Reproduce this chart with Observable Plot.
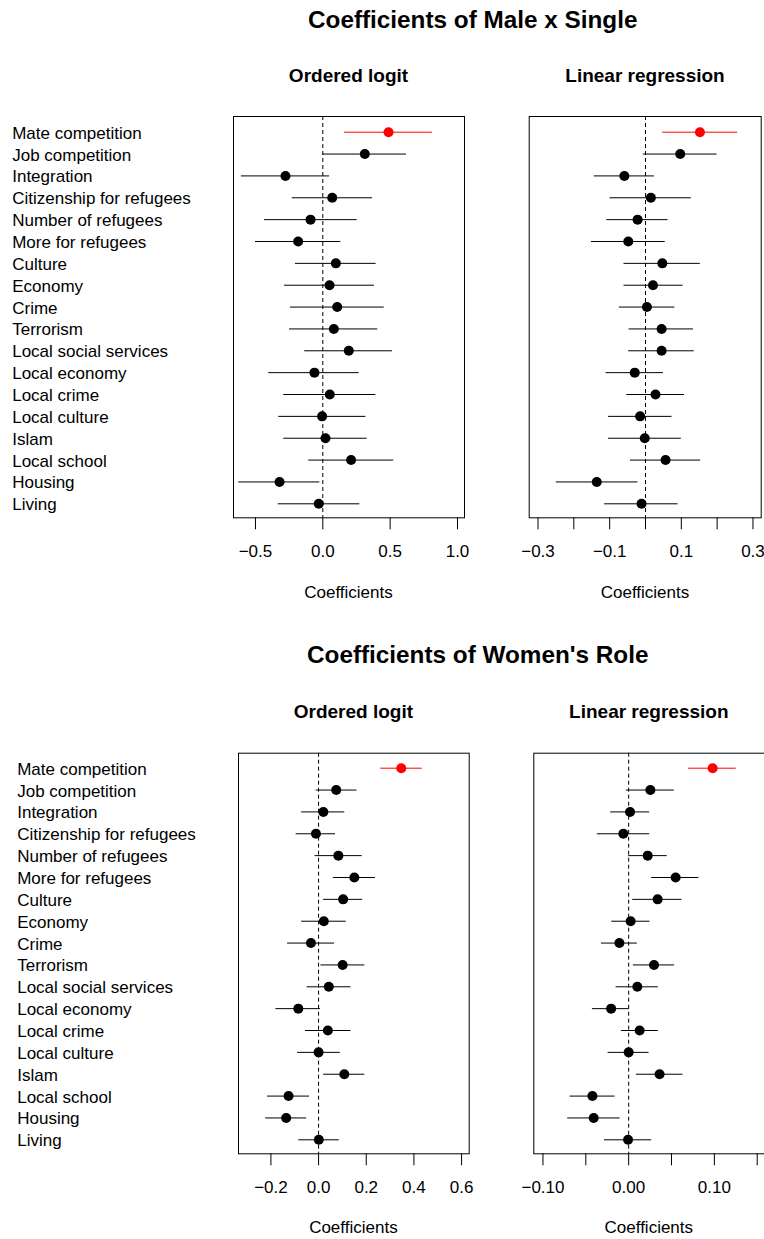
<!DOCTYPE html>
<html><head><meta charset="utf-8">
<script src="https://cdn.jsdelivr.net/npm/d3@7"></script>
<script src="https://cdn.jsdelivr.net/npm/@observablehq/plot@0.6"></script>
<style>
body{margin:0;background:#fff;}
#wrap{position:relative;width:764px;height:1239px;overflow:hidden;font-family:"Liberation Sans",Arial,Helvetica,sans-serif;color:#000;background:#fff;}
.t{position:absolute;white-space:nowrap;line-height:1;}
.pl{position:absolute;}
</style></head><body><div id="wrap"></div>
<script>
// ---- data ----
const categories = ["Mate competition","Job competition","Integration","Citizenship for refugees","Number of refugees","More for refugees","Culture","Economy","Crime","Terrorism","Local social services","Local economy","Local crime","Local culture","Islam","Local school","Housing","Living"];

// Male x Single — ordered logit
const msLogitEst = [0.488,0.312,-0.277,0.07,-0.091,-0.183,0.097,0.05,0.107,0.082,0.193,-0.062,0.052,-0.005,0.02,0.21,-0.321,-0.03];
const msLogitLo  = [0.161,0.0,-0.604,-0.227,-0.433,-0.5,-0.203,-0.284,-0.24,-0.247,-0.134,-0.401,-0.29,-0.327,-0.29,-0.104,-0.624,-0.331];
const msLogitHi  = [0.814,0.621,0.05,0.369,0.255,0.134,0.396,0.384,0.456,0.408,0.517,0.27,0.394,0.32,0.33,0.527,-0.022,0.275];

// Male x Single — linear regression
const msOlsEst = [0.152,0.097,-0.059,0.015,-0.022,-0.048,0.047,0.021,0.004,0.045,0.045,-0.03,0.028,-0.015,-0.002,0.056,-0.136,-0.011];
const msOlsLo  = [0.048,-0.006,-0.143,-0.099,-0.108,-0.151,-0.06,-0.06,-0.073,-0.046,-0.047,-0.11,-0.052,-0.103,-0.103,-0.042,-0.249,-0.114];
const msOlsHi  = [0.257,0.2,0.025,0.128,0.063,0.055,0.153,0.105,0.082,0.134,0.136,0.05,0.109,0.074,0.1,0.154,-0.021,0.091];

// Women's Role — ordered logit
const wrLogitEst = [0.347,0.074,0.02,-0.011,0.083,0.15,0.103,0.022,-0.032,0.101,0.043,-0.085,0.039,0.0,0.108,-0.126,-0.136,0.001];
const wrLogitLo  = [0.261,-0.01,-0.071,-0.094,-0.015,0.062,0.021,-0.071,-0.13,0.01,-0.048,-0.179,-0.055,-0.088,0.021,-0.214,-0.222,-0.083];
const wrLogitHi  = [0.435,0.161,0.11,0.071,0.183,0.239,0.185,0.116,0.067,0.194,0.136,0.008,0.136,0.091,0.194,-0.038,-0.05,0.087];

// Women's Role — linear regression
const wrOlsEst = [0.098,0.0253,0.0016,-0.0062,0.0222,0.0548,0.0338,0.0023,-0.0108,0.0296,0.0101,-0.0205,0.0128,0.0,0.0361,-0.0423,-0.0408,-0.0007];
const wrOlsLo  = [0.07,-0.0027,-0.021,-0.0365,0.0,0.0268,0.0047,-0.0198,-0.0318,0.0055,-0.0147,-0.0423,-0.0085,-0.024,0.009,-0.0683,-0.0711,-0.0283];
const wrOlsHi  = [0.1255,0.0533,0.0245,0.0245,0.045,0.082,0.0622,0.0249,0.0101,0.0536,0.0346,0.0008,0.0346,0.0238,0.0634,-0.0159,-0.01,0.0268];

// tick values
const ticksLogitMS = [-0.5,0,0.5,1.0];
const ticksOlsMS = [-0.3,-0.2,-0.1,0,0.1,0.2,0.3];
const ticksLogitWR = [-0.2,0,0.2,0.4,0.6];
const ticksOlsWR = [-0.1,-0.05,0,0.05,0.1,0.15];

const highlightCat = "Mate competition";
const red = "#ff0000";

// ---- layout helpers ----
const wrap = document.getElementById("wrap");
function addText(str, x, baseline, size, bold, anchor) {
  const d = document.createElement("div");
  d.className = "t";
  d.textContent = str;
  d.style.fontSize = size + "px";
  d.style.fontWeight = bold ? "bold" : "normal";
  d.style.top = (baseline - 0.8465 * size) + "px";
  d.style.left = x + "px";
  if (anchor === "middle") d.style.transform = "translateX(-50%)";
  wrap.appendChild(d);
}

function panel(o) {
  const rows = categories.map((c, i) => ({cat: c, est: o.est[i], lo: o.lo[i], hi: o.hi[i]}));
  const hl = rows.filter(d => d.cat === highlightCat);
  const rest = rows.filter(d => d.cat !== highlightCat);
  const marks = [
    Plot.ruleX([0], {stroke: "#000", strokeWidth: 1, strokeDasharray: "4,3"}),
    Plot.ruleY(rest, {y: "cat", x1: "lo", x2: "hi", stroke: "#000", strokeWidth: 1}),
    Plot.ruleY(hl, {y: "cat", x1: "lo", x2: "hi", stroke: red, strokeWidth: 1}),
    Plot.dot(rest, {x: "est", y: "cat", r: 5, fill: "#000", stroke: "none"}),
    Plot.dot(hl, {x: "est", y: "cat", r: 5, fill: red, stroke: "none"}),
    Plot.frame({stroke: "#000", strokeWidth: 1}),
    Plot.axisX({ticks: o.ticks, tickFormat: o.fmt, tickSize: 12, tickPadding: 15, fontSize: 17, label: null, fill: "#000"})
  ];
  if (o.labels) {
    marks.push(Plot.text(categories, {y: d => d, frameAnchor: "left", textAnchor: "start", dx: -221.3, dy: 1, fontSize: 17, fill: "#000"}));
  }
  const svg = Plot.plot({
    width: o.width, height: 480,
    marginLeft: o.mL, marginRight: o.mR, marginTop: o.mT, marginBottom: o.mB,
    x: {domain: o.domain, axis: null},
    y: {type: "point", domain: categories, range: [31.7, 403.3], padding: 0, round: false, axis: null},
    style: {fontFamily: "'Liberation Sans', Arial, Helvetica, sans-serif", fontSize: "17px", overflow: "visible", background: "transparent", color: "#000"},
    marks
  });
  svg.classList.add("pl");
  svg.style.left = o.left + "px";
  svg.style.top = o.top + "px";
  wrap.appendChild(svg);
}

const f1 = d3.format(".1f"), f2 = d3.format(".2f");

// ---- top section ----
addText("Coefficients of Male x Single", 308, 28.3, 24.3, true, "start");
addText("Ordered logit", 348.5, 81.7, 19, true, "middle");
addText("Linear regression", 645, 81.7, 19, true, "middle");

panel({est: msLogitEst, lo: msLogitLo, hi: msLogitHi, domain: [-0.663, 1.052], ticks: ticksLogitMS, fmt: f1,
  left: 0, top: 100, width: 500, mL: 233, mR: 36, mT: 16, mB: 62.7, labels: true});
panel({est: msOlsEst, lo: msOlsLo, hi: msOlsHi, domain: [-0.3246, 0.323], ticks: ticksOlsMS,
  fmt: d => (Math.round(d * 10) % 2 !== 0 ? f1(d) : ""),
  left: 500, top: 100, width: 264, mL: 28.7, mR: 3.3, mT: 16, mB: 62.7, labels: false});

addText("Coefficients", 348.5, 598, 17, false, "middle");
addText("Coefficients", 645, 598, 17, false, "middle");

// ---- bottom section ----
addText("Coefficients of Women's Role", 307, 663.3, 24.3, true, "start");
addText("Ordered logit", 353.4, 717.7, 19, true, "middle");
addText("Linear regression", 648.8, 717.7, 19, true, "middle");

panel({est: wrLogitEst, lo: wrLogitLo, hi: wrLogitHi, domain: [-0.336, 0.632], ticks: ticksLogitWR, fmt: f1,
  left: 0, top: 736, width: 500, mL: 238, mR: 31.3, mT: 16.7, mB: 62.7, labels: true});
panel({est: wrOlsEst, lo: wrOlsLo, hi: wrOlsHi, domain: [-0.1107, 0.1585], ticks: ticksOlsWR,
  fmt: d => (Math.round(d * 20) % 2 === 0 ? f2(d) : ""),
  left: 500, top: 736, width: 264, mL: 33.3, mR: 0, mT: 16.7, mB: 62.7, labels: false});

addText("Coefficients", 353.4, 1233, 17, false, "middle");
addText("Coefficients", 648.8, 1233, 17, false, "middle");
</script>
</body></html>
